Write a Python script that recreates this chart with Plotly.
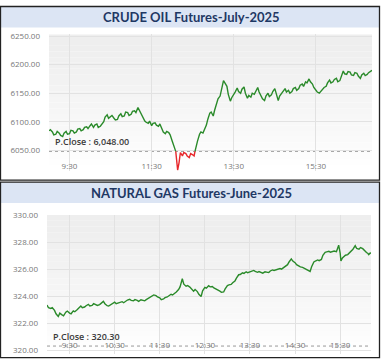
import datetime as dt
import plotly.graph_objects as go

# ---------------- data ----------------
crude_times = [
    "09:00","09:02","09:05","09:07","09:10","09:12","09:15","09:17","09:20","09:22","09:25","09:27",
    "09:30","09:32","09:35","09:37","09:40","09:42","09:45","09:47","09:50","09:52","09:55","09:57",
    "10:00","10:02","10:05","10:07","10:10","10:12","10:15","10:17","10:20","10:22","10:25","10:27",
    "10:30","10:32","10:35","10:37","10:40","10:42","10:45","10:47","10:50","10:52","10:55","10:57",
    "11:00","11:02","11:05","11:07","11:10","11:12","11:15","11:17","11:20","11:22","11:25","11:27",
    "11:30","11:32","11:35","11:37","11:40","11:42","11:45","11:47","11:50","11:52","11:55","11:57",
    "12:00","12:02","12:05","12:07","12:08","12:10","12:12","12:15","12:17","12:20","12:22","12:25","12:27",
    "12:30","12:32","12:35","12:37","12:40","12:42","12:45","12:47","12:50","12:52","12:55","12:57",
    "13:00","13:02","13:05","13:07","13:10","13:12","13:15","13:17","13:20","13:22","13:25","13:27",
    "13:30","13:32","13:35","13:37","13:40","13:42","13:45","13:47","13:50","13:52","13:55","13:57",
    "14:00","14:02","14:05","14:07","14:10","14:12","14:15","14:17","14:20","14:22","14:25","14:27",
    "14:30","14:32","14:35","14:37","14:40","14:42","14:45","14:47","14:50","14:52","14:55","14:57",
    "15:00","15:02","15:05","15:07","15:10","15:12","15:15","15:17","15:20","15:22","15:25","15:27",
    "15:30","15:32","15:35","15:37","15:40","15:42","15:45","15:47","15:50","15:52","15:55","15:57",
    "16:00","16:02","16:05","16:07","16:10","16:12","16:15","16:17","16:20","16:22","16:25","16:27",
    "16:30","16:32","16:35","16:37","16:40","16:42","16:45","16:47","16:50","16:52"]
crude_vals = [
    6084,6086,6082,6077,6078,6083,6080,6076,6074,6080,6083,6078,
    6079,6085,6084,6080,6082,6087,6088,6084,6086,6090,6091,6088,
    6093,6096,6090,6094,6096,6090,6092,6095,6100,6108,6112,6106,
    6109,6111,6106,6103,6104,6110,6114,6109,6110,6117,6116,6111,
    6113,6118,6119,6116,6125,6120,6112,6106,6101,6099,6097,6101,
    6093,6097,6098,6094,6092,6096,6086,6082,6079,6083,6081,6077,
    6066,6058,6050,6030,6015,6028,6046,6040,6046,6044,6040,6037,6044,
    6042,6040,6058,6066,6078,6082,6080,6086,6094,6104,6115,6117,
    6110,6120,6130,6140,6145,6156,6172,6168,6162,6148,6136,6142,
    6147,6152,6159,6153,6150,6157,6161,6150,6141,6146,6143,6150,
    6148,6154,6160,6152,6145,6140,6137,6145,6150,6144,6147,6153,
    6158,6148,6137,6145,6150,6155,6158,6152,6155,6150,6153,6158,
    6160,6155,6158,6164,6166,6162,6170,6168,6175,6170,6166,6160,
    6155,6152,6150,6153,6156,6160,6162,6168,6173,6168,6170,6174,
    6176,6170,6172,6180,6189,6184,6183,6188,6187,6182,6181,6186,
    6185,6180,6176,6182,6185,6181,6183,6186,6188,6190]
crude_pclose = 6048.00
crude_ticks = ["09:30", "11:30", "13:30", "15:30"]
crude_yticks = [6050, 6100, 6150, 6200, 6250]

gas_times = [
    "09:00","09:02","09:05","09:07","09:10","09:12","09:15","09:17","09:20","09:22","09:25","09:27",
    "09:30","09:32","09:35","09:37","09:40","09:42","09:45","09:47","09:50","09:52","09:55","09:57",
    "10:00","10:02","10:05","10:07","10:10","10:12","10:15","10:17","10:20","10:22","10:25","10:27",
    "10:30","10:32","10:35","10:37","10:40","10:42","10:45","10:47","10:50","10:52","10:55","10:57",
    "11:00","11:02","11:05","11:07","11:10","11:12","11:15","11:17","11:20","11:22","11:25","11:27",
    "11:30","11:32","11:35","11:37","11:40","11:42","11:45","11:47","11:50","11:52","11:55","11:57",
    "12:00","12:02","12:05","12:07","12:10","12:12","12:15","12:17","12:20","12:22","12:25","12:27",
    "12:30","12:32","12:35","12:37","12:40","12:42","12:45","12:47","12:50","12:52","12:55","12:57",
    "13:00","13:02","13:05","13:07","13:10","13:12","13:15","13:17","13:20","13:22","13:25","13:27",
    "13:30","13:32","13:35","13:37","13:40","13:42","13:45","13:47","13:50","13:52","13:55","13:57",
    "14:00","14:02","14:05","14:07","14:10","14:12","14:15","14:17","14:20","14:22","14:25","14:27",
    "14:30","14:32","14:35","14:37","14:40","14:42","14:45","14:47","14:50","14:52","14:55","14:57",
    "15:00","15:02","15:05","15:07","15:10","15:12","15:15","15:17","15:20","15:22","15:25","15:28",
    "15:30","15:31","15:33","15:35","15:37","15:40","15:42","15:45","15:47","15:50","15:52","15:55",
    "15:57","16:00","16:02","16:05","16:07","16:08","16:10","16:11"]
gas_vals = [
    323.35,323.15,323.10,323.15,322.95,322.70,322.50,322.75,322.62,322.55,322.82,322.90,
    322.75,322.70,322.92,322.85,323.00,323.12,323.28,323.15,323.20,323.30,323.40,323.28,
    323.32,323.45,323.40,323.32,323.38,323.50,323.62,323.45,323.30,323.28,323.40,323.48,
    323.57,323.45,323.50,323.58,323.60,323.52,323.68,323.72,323.78,323.70,323.66,323.75,
    323.70,323.62,323.74,323.70,323.66,323.75,323.86,323.90,323.98,324.10,324.05,323.95,
    323.88,323.75,323.80,323.90,323.95,324.05,324.15,324.10,324.20,324.32,324.50,324.70,
    325.30,324.90,324.75,324.80,324.68,324.55,324.38,324.50,324.35,324.15,323.98,324.40,
    324.66,324.60,324.78,324.70,324.72,324.62,324.55,324.50,324.38,324.30,324.32,324.55,
    324.80,324.85,324.88,325.00,325.14,325.35,325.60,325.62,325.74,325.70,325.82,325.75,
    325.80,325.88,325.92,325.85,325.78,325.84,325.77,325.72,325.82,325.80,325.76,325.88,
    325.96,325.92,325.98,326.02,326.06,326.02,326.12,326.25,326.35,326.55,326.78,326.62,
    326.50,326.35,326.25,326.18,326.15,326.08,326.00,325.95,325.85,326.20,326.55,326.62,
    326.70,326.65,326.74,327.05,327.27,327.30,327.34,327.28,327.30,327.36,327.32,327.80,
    327.20,326.62,326.85,326.98,327.05,327.10,327.22,327.35,327.50,327.76,327.55,327.50,
    327.62,327.54,327.40,327.25,327.18,327.10,327.22,327.18]
gas_pclose = 320.30
gas_ticks = ["09:30","10:30","11:30","12:30","13:30","14:30","15:30"]
gas_yticks = [320, 322, 324, 326, 328, 330]

crude_title = "CRUDE OIL Futures-July-2025"
gas_title = "NATURAL GAS Futures-June-2025"

# ---------------- helpers ----------------
DAY = "2025-06-13 "
W, H = 383, 362


def ts(s):
    return dt.datetime.strptime(DAY + s, "%Y-%m-%d %H:%M")


def split(times, vals, ref):
    tm = [ts(t) for t in times]
    xs, g, r = [], [], []
    for i, v in enumerate(vals):
        if i > 0:
            a = vals[i - 1]
            if (a - ref) * (v - ref) < 0:
                f = (ref - a) / (v - a)
                xc = tm[i - 1] + (tm[i] - tm[i - 1]) * f
                xs.append(xc); g.append(ref); r.append(ref)
        xs.append(tm[i])
        g.append(v if v >= ref else None)
        r.append(v if v <= ref else None)
    return xs, g, r


def px_x(p):
    return p / W


def px_y(p):
    return 1 - p / H


GREEN = "#2a8a2a"
RED = "#e8262a"
fig = go.Figure()

panels = [
    dict(times=crude_times, vals=crude_vals, pc=crude_pclose, ticks=crude_ticks,
         yt=crude_yticks, yfmt="{:.2f}", xa="x", ya="y",
         dom_x=(49, 372), dom_y=(29, 168), yr=(6014, 6253), xend="16:52",
         xpos=157, pcl="P.Close : 6,048.00"),
    dict(times=gas_times, vals=gas_vals, pc=gas_pclose, ticks=gas_ticks,
         yt=gas_yticks, yfmt="{:.2f}", xa="x2", ya="y2",
         dom_x=(47, 371), dom_y=(213, 355), yr=(319.7, 330.05), xend="16:11",
         xpos=340, pcl="P.Close : 320.30"),
]

layout_axes = {}
shapes = []
annotations = []
for k, p in enumerate(panels):
    xs, g, r = split(p["times"], p["vals"], p["pc"])
    fig.add_trace(go.Scatter(x=xs, y=g, mode="lines", line=dict(color=GREEN, width=1.4),
                             connectgaps=False, xaxis=p["xa"], yaxis=p["ya"], hoverinfo="skip"))
    fig.add_trace(go.Scatter(x=xs, y=r, mode="lines", line=dict(color=RED, width=1.4),
                             connectgaps=False, xaxis=p["xa"], yaxis=p["ya"], hoverinfo="skip"))
    xname = "xaxis" if k == 0 else "xaxis2"
    yname = "yaxis" if k == 0 else "yaxis2"
    layout_axes[xname] = dict(
        domain=[px_x(p["dom_x"][0]), px_x(p["dom_x"][1])],
        anchor="free", position=px_y(p["xpos"]), type="date",
        range=[ts(p["times"][0]), ts(p["xend"])],
        tickvals=[ts(t) for t in p["ticks"]],
        ticktext=[t.lstrip("0") for t in p["ticks"]],
        ticks="",
        showgrid=True, gridcolor="#e2e2e2", gridwidth=1,
        showline=False, zeroline=False,
        tickfont=dict(family="Open Sans", size=8, color="#777"),
        fixedrange=True,
    )
    layout_axes[yname] = dict(
        domain=[px_y(p["dom_y"][1]), px_y(p["dom_y"][0])],
        anchor=p["xa"], range=list(p["yr"]),
        tickvals=p["yt"], ticktext=[p["yfmt"].format(v) for v in p["yt"]],
        showgrid=True, gridcolor="#e2e2e2", gridwidth=1,
        showline=False, zeroline=False, ticks="",
        ticklabelstandoff=8,
        tickfont=dict(family="Open Sans", size=8, color="#777"),
        fixedrange=True,
    )
    # gradient background of plot area
    n = 24
    for i in range(n):
        c = int(238 + (255 - 238) * (i / (n - 1)) ** 1.2)
        shapes.append(dict(type="rect", xref=f"{p['xa']} domain", yref=f"{p['ya']} domain",
                           x0=0, x1=1, y0=1 - (i + 1) / n, y1=1 - i / n,
                           fillcolor=f"rgb({c},{c},{c})", line=dict(width=0), layer="below"))
    # previous close dotted line
    shapes.append(dict(type="line", xref=f"{p['xa']} domain", yref=p["ya"],
                       x0=0, x1=1, y0=p["pc"], y1=p["pc"],
                       line=dict(color="#999", width=1, dash="dot"), layer="below"))
    annotations.append(dict(xref=f"{p['xa']} domain", yref=p["ya"], x=0.012, y=p["pc"],
                            text=p["pcl"], showarrow=False, xanchor="left", yanchor="bottom",
                            yshift=1, font=dict(family="Open Sans", size=9, color="#3a3a3a",
                                                weight=600)))

# headers
for (y0, y1, title) in [(0, 22, crude_title), (180, 201, gas_title)]:
    shapes.append(dict(type="rect", xref="paper", yref="paper",
                       x0=px_x(1), x1=px_x(380), y0=px_y(y1), y1=px_y(y0),
                       fillcolor="#dce5f4", line=dict(width=0), layer="below"))
    annotations.append(dict(xref="paper", yref="paper", x=px_x(191), y=px_y((y0 + y1) / 2 + 0.5),
                            xanchor="center", yanchor="middle",
                            text=f"<b>{title}</b>", showarrow=False,
                            font=dict(family="Lato", size=13, color="#1f3864")))

# panel borders
shapes.append(dict(type="rect", xref="paper", yref="paper",
                   x0=px_x(0.5), x1=px_x(379.5), y0=px_y(177.5), y1=px_y(0.5),
                   line=dict(color="#222", width=1.3), layer="above"))
shapes.append(dict(type="rect", xref="paper", yref="paper",
                   x0=px_x(0.5), x1=px_x(379.5), y0=px_y(358.5), y1=px_y(179.5),
                   line=dict(color="#222", width=1.3), layer="above"))

fig.update_layout(
    width=W, height=H, margin=dict(l=0, r=0, t=0, b=0),
    paper_bgcolor="white", plot_bgcolor="white",
    showlegend=False, shapes=shapes, annotations=annotations,
    **layout_axes,
)

fig.write_html("out.html", config={"displayModeBar": False},
               post_script="document.body.style.margin='0';document.body.style.padding='0';")
